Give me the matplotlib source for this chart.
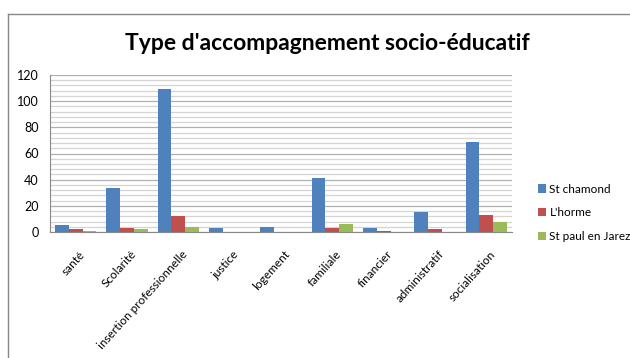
import matplotlib.pyplot as plt
import matplotlib.lines as mlines
import numpy as np

categories = ["santé", "Scolarité", "insertion professionnelle", "justice",
              "logement", "familiale", "financier", "administratif", "socialisation"]
series_names = ["St chamond", "L'horme", "St paul en Jarez"]
st_chamond = [5, 34, 109, 3, 4, 41, 3, 15, 69]
l_horme = [2, 3, 12, 0, 0, 3, 1, 2, 13]
st_paul = [1, 2, 4, 0, 0, 6, 0, 0, 8]
colours = ["#4F81BD", "#C0504D", "#9BBB59"]

plt.rcParams['font.family'] = ['Lato', 'DejaVu Sans']

fig = plt.figure(figsize=(6.3, 3.58), dpi=100)
fig.patch.set_facecolor("white")
ax = fig.add_axes([50 / 630, 1 - 232 / 358, 462 / 630, 157 / 358])

x = np.arange(len(categories))
w = 0.27
for i, (vals, name) in enumerate(zip([st_chamond, l_horme, st_paul], series_names)):
    ax.bar(x + (i - 1) * w, vals, width=w, color=colours[i], label=name, zorder=3)

ax.set_xlim(-0.5, len(categories) - 0.5)
ax.set_ylim(0, 120)
ax.set_yticks(range(0, 121, 20))
ax.set_yticks(range(0, 121, 4), minor=True)
ax.grid(which="major", axis="y", color="#b0b0b0", lw=0.9, zorder=0)
ax.grid(which="minor", axis="y", color="#d4d4d4", lw=0.9, zorder=0)
ax.tick_params(axis="y", which="both", length=0, labelsize=9, pad=8)
ax.tick_params(axis="x", length=0, labelsize=8.5, pad=12)
ax.set_xticks(x + 0.06)
ax.set_xticklabels(categories, rotation=48, ha="right", rotation_mode="anchor")
for s in ["top", "right"]:
    ax.spines[s].set_visible(False)
ax.spines["left"].set_color("#888888")
ax.spines["bottom"].set_color("#888888")

fig.text(327 / 630, 1 - 44 / 358, "Type d'accompagnement socio-éducatif",
         ha="center", va="center", fontsize=16.5, fontweight="bold")

ax.legend(loc="center left", bbox_to_anchor=(527 / 630, 1 - 213 / 358),
          bbox_transform=fig.transFigure, frameon=False, fontsize=8.5,
          handlelength=0.7, handleheight=0.7, handletextpad=0.3, labelspacing=1.1)

# chart frame (only left and top edges visible in the picture)
fig.add_artist(mlines.Line2D([8 / 630, 8 / 630], [0, 1 - 14 / 358],
                             transform=fig.transFigure, color="#888888", lw=1))
fig.add_artist(mlines.Line2D([8 / 630, 1], [1 - 14 / 358, 1 - 14 / 358],
                             transform=fig.transFigure, color="#888888", lw=1))

fig.savefig("out.png", dpi=100)
